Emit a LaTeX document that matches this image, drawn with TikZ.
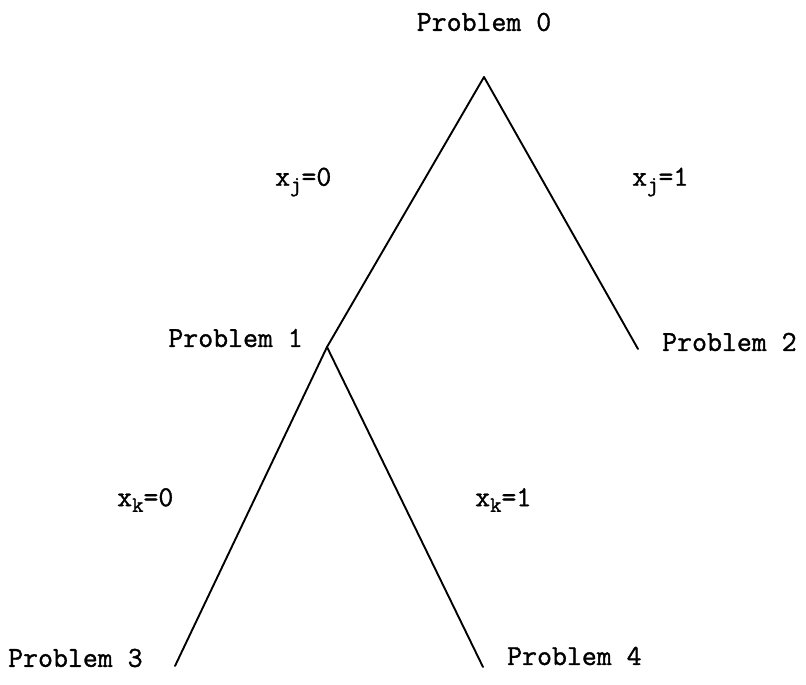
\documentclass[tikz,border=0pt]{standalone}
\usepackage{fontspec}
\setmonofont{Latin Modern Mono}[FakeBold=1.2]
\begin{document}
\begin{tikzpicture}[x=1pt,y=-1pt,
  lbl/.style={inner sep=0pt,font=\ttfamily\fontsize{29}{34}\selectfont},
  edge/.style={line width=1.9pt,line cap=round,black}]
\useasboundingbox (0,0) rectangle (806,685);
\coordinate (v0) at (484,77);
\coordinate (v1) at (327,347);
\coordinate (v2) at (638,349);
\coordinate (v3) at (175,666);
\coordinate (v4) at (483,667);
\node[lbl] (p0) at (484,22) {Problem 0};
\node[lbl,anchor=east] (p1) at (303,338) {Problem 1};
\node[lbl,anchor=west] (p2) at (662,342) {Problem 2};
\node[lbl,anchor=west] (p3) at (8,658) {Problem 3};
\node[lbl,anchor=west] (p4) at (507,656) {Problem 4};
\node[lbl,anchor=west] (lj0) at (275,182) {x\raisebox{-0.45ex}{\fontsize{22}{24}\selectfont j}=0};
\node[lbl,anchor=west] (lj1) at (632,182) {x\raisebox{-0.45ex}{\fontsize{22}{24}\selectfont j}=1};
\node[lbl,anchor=west] (lk0) at (117,500) {x\raisebox{-0.45ex}{\fontsize{22}{24}\selectfont k}=0};
\node[lbl,anchor=west] (lk1) at (475,500) {x\raisebox{-0.45ex}{\fontsize{22}{24}\selectfont k}=1};
\draw[edge] (v0) -- (v1);
\draw[edge] (v0) -- (v2);
\draw[edge] (v1) -- (v3);
\draw[edge] (v1) -- (v4);
\end{tikzpicture}
\end{document}
